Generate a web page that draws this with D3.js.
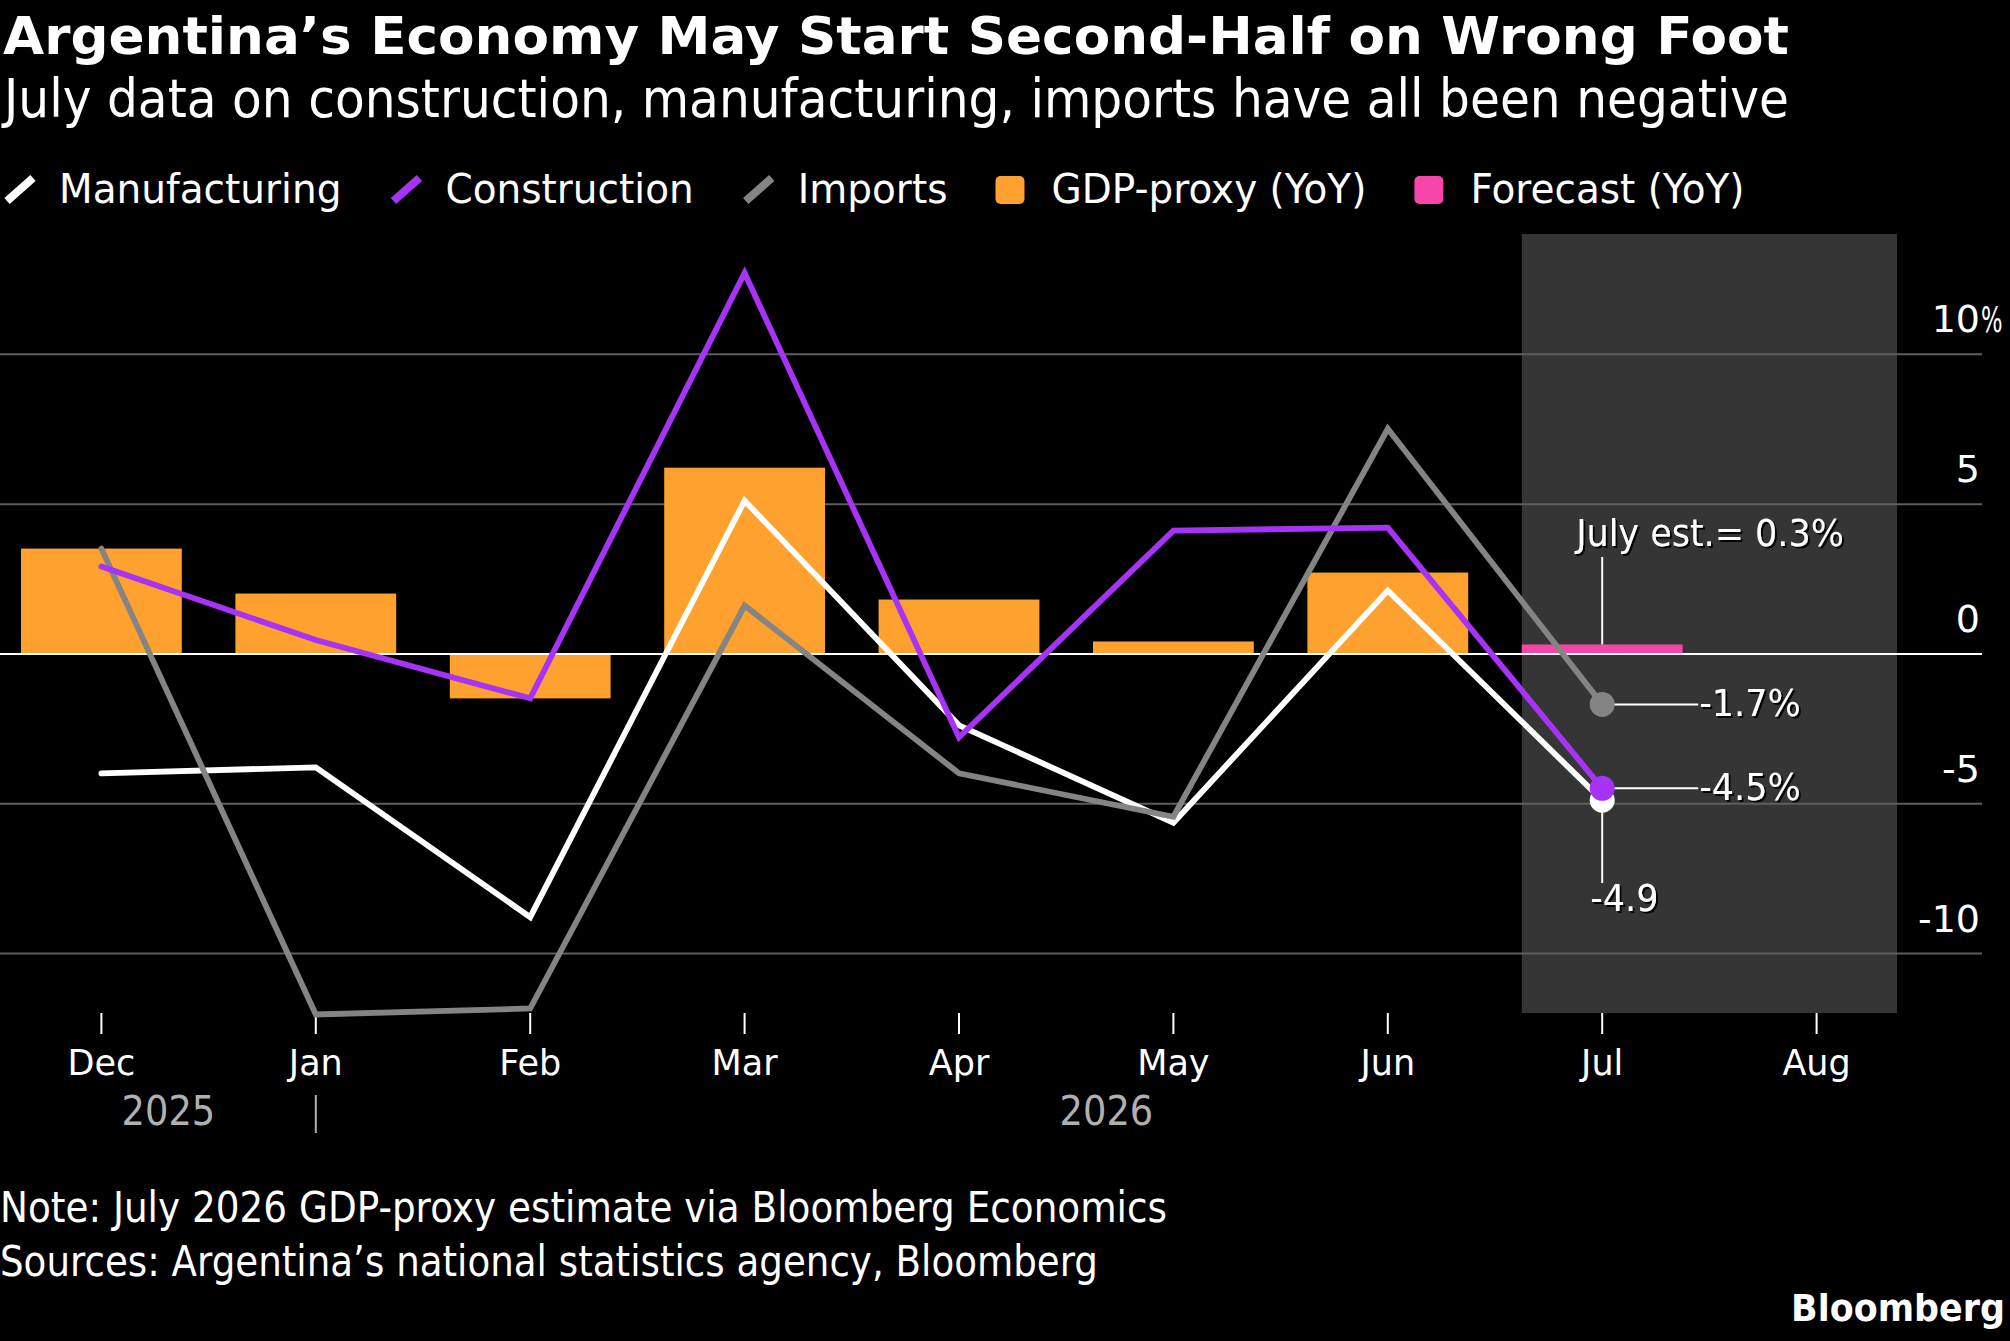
<!DOCTYPE html>
<html>
<head>
<meta charset="utf-8">
<script src="https://cdn.jsdelivr.net/npm/d3@7"></script>
<style>
  body { margin: 0; background: #000; }
  svg { display: block; }
  text { font-family: "DejaVu Sans", sans-serif; fill: #fff; }
</style>
</head>
<body>
<svg width="2010" height="1341"></svg>
<script>
// values (YoY %)
const months = ["Dec", "Jan", "Feb", "Mar", "Apr", "May", "Jun", "Jul", "Aug"];
const gdpProxy = [3.5, 2.0, -1.5, 6.2, 1.8, 0.4, 2.7, null, null];
const forecast = [null, null, null, null, null, null, null, 0.3, null];
const manufacturing = [-4.0, -3.8, -8.8, 5.1, -2.4, -5.65, 2.1, -4.9, null];
const construction = [2.9, 0.45, -1.5, 12.7, -2.8, 4.1, 4.2, -4.5, null];
const imports = [3.5, -12.05, -11.85, 1.6, -4.0, -5.45, 7.5, -1.7, null];
const yTicks = [-10, -5, 0, 5, 10];
const years = [{label: "2025", from: "Dec", to: "Jan"}, {label: "2026", from: "Jan", to: "Aug"}];
const forecastMonths = ["Jul", "Aug"];

const title = "Argentina\u2019s Economy May Start Second-Half on Wrong Foot";
const subtitle = "July data on construction, manufacturing, imports have all been negative";
const notes = ["Note: July 2026 GDP-proxy estimate via Bloomberg Economics",
               "Sources: Argentina\u2019s national statistics agency, Bloomberg"];

const colors = {
    manufacturing: "#ffffff",
    construction: "#a633f6",
    imports: "#848484",
    gdp: "#ffa12e",
    forecast: "#f545a8",
    shade: "#353535",
    grid: "#5e5e5e"
};

const svg = d3.select("svg");

svg.append("defs").append("filter")
    .attr("id", "shadow")
    .append("feDropShadow")
    .attr("dx", 2).attr("dy", 2).attr("stdDeviation", 0.5)
    .attr("flood-color", "#000").attr("flood-opacity", 0.9);

// squeeze a text horizontally (the Bloomberg face is narrower than DejaVu)
function squeeze(sel, k) {
    sel.each(function() {
        const w = this.getComputedTextLength();
        d3.select(this).attr("textLength", w * k).attr("lengthAdjust", "spacingAndGlyphs");
    });
}
function fitTo(sel, w) {
    sel.attr("textLength", w).attr("lengthAdjust", "spacingAndGlyphs");
}

// Scales
var x = d3.scaleBand()
    .domain(months)
    .range([21, 1897])
    .paddingInner(0.25)
    .paddingOuter(0);
var bw = x.bandwidth();
var cx = m => x(m) + bw / 2;

var y = d3.scaleLinear()
    .domain([-12, 14])
    .range([1013, 234]);

// Header
svg.append("text")
    .attr("x", 3).attr("y", 54)
    .style("font-size", "52px").style("font-weight", "bold")
    .text(title)
    .call(fitTo, 1786);

svg.append("text")
    .attr("x", 4).attr("y", 117)
    .style("font-size", "53px")
    .text(subtitle)
    .call(fitTo, 1785);

// Legend
const legendItems = [
    {label: "Manufacturing", type: "line", color: colors.manufacturing},
    {label: "Construction", type: "line", color: colors.construction},
    {label: "Imports", type: "line", color: colors.imports},
    {label: "GDP-proxy (YoY)", type: "box", color: colors.gdp},
    {label: "Forecast (YoY)", type: "box", color: colors.forecast}
];
var lx = 3;
var legend = svg.append("g").attr("class", "legend");
legendItems.forEach(item => {
    if (item.type === "line") {
        legend.append("line")
            .attr("x1", lx + 4).attr("y1", 201)
            .attr("x2", lx + 30).attr("y2", 178)
            .attr("stroke", item.color).attr("stroke-width", 8);
    } else {
        legend.append("rect")
            .attr("x", lx).attr("y", 176)
            .attr("width", 29).attr("height", 28).attr("rx", 5)
            .attr("fill", item.color);
    }
    var t = legend.append("text")
        .attr("x", lx + 56).attr("y", 203)
        .style("font-size", "40px")
        .text(item.label);
    var w = t.node().getComputedTextLength() * 0.975;
    fitTo(t, w);
    lx += 56 + w + 48;
});

// Forecast shading
svg.append("rect")
    .attr("x", x(forecastMonths[0]))
    .attr("y", y.range()[1])
    .attr("width", x(forecastMonths[forecastMonths.length - 1]) + bw - x(forecastMonths[0]))
    .attr("height", y.range()[0] - y.range()[1])
    .attr("fill", colors.shade);

// Gridlines + right-hand labels
function styleY(g) {
    g.select(".domain").remove();
    g.selectAll(".tick text")
        .attr("x", -2).attr("y", -22).attr("dy", null)
        .attr("text-anchor", "end")
        .attr("fill", "#fff")
        .style("font-family", "DejaVu Sans").style("font-size", "38px");
    // the unit hangs past the gridline end on the top label
    g.selectAll(".tick")
        .filter(d => d === d3.max(yTicks))
        .append("text")
        .attr("transform", "translate(-1,-22) scale(0.63,1)")
        .attr("text-anchor", "start")
        .attr("fill", "#fff")
        .style("font-family", "DejaVu Sans").style("font-size", "36px")
        .text("%");
}

var gy = svg.append("g")
    .attr("transform", "translate(1982,0)")
    .call(d3.axisLeft(y)
        .tickValues(yTicks.filter(d => d !== 0))
        .tickSize(1982)
        .tickFormat(d => String(d)))
    .call(styleY);
gy.selectAll(".tick line").attr("stroke", colors.grid).attr("stroke-width", 2);

// GDP-proxy bars
svg.append("g")
    .selectAll("rect")
    .data(months.map((m, i) => ({m: m, v: gdpProxy[i]})).filter(d => d.v != null))
    .enter().append("rect")
    .attr("x", d => x(d.m))
    .attr("y", d => y(Math.max(0, d.v)))
    .attr("width", bw)
    .attr("height", d => Math.abs(y(d.v) - y(0)))
    .attr("fill", colors.gdp);

// Forecast bar
svg.append("g")
    .selectAll("rect")
    .data(months.map((m, i) => ({m: m, v: forecast[i]})).filter(d => d.v != null))
    .enter().append("rect")
    .attr("x", d => x(d.m))
    .attr("y", d => y(Math.max(0, d.v)))
    .attr("width", bw)
    .attr("height", d => Math.abs(y(d.v) - y(0)))
    .attr("fill", colors.forecast);

// Zero line on top of bars
var gz = svg.append("g")
    .attr("transform", "translate(1982,0)")
    .call(d3.axisLeft(y).tickValues([0]).tickSize(1982).tickFormat(d => String(d)))
    .call(styleY);
gz.selectAll(".tick line").attr("stroke", "#fff").attr("stroke-width", 2);

// X axis
var xAxis = d3.axisBottom(x).tickSize(21).tickSizeOuter(0);
var gx = svg.append("g")
    .attr("transform", "translate(0," + y.range()[0] + ")")
    .call(xAxis);
gx.select(".domain").remove();
gx.selectAll(".tick line").attr("stroke", "#fff").attr("stroke-width", 2);
gx.selectAll(".tick text")
    .attr("y", 62).attr("dy", null)
    .attr("fill", "#fff")
    .style("font-family", "DejaVu Sans").style("font-size", "35px");

// Year labels
var gyear = svg.append("g");
years.forEach((yr, i) => {
    var x0 = i === 0 ? x(yr.from) : cx(yr.from);
    var x1 = yr.to === months[months.length - 1] ? x(yr.to) + bw : cx(yr.to);
    gyear.append("text")
        .attr("x", (x0 + x1) / 2).attr("y", 1125)
        .attr("text-anchor", "middle")
        .style("font-size", "40px").style("fill", "#b0b0b0")
        .text(yr.label)
        .call(squeeze, 0.92);
});
gyear.append("line")
    .attr("x1", cx(years[1].from)).attr("x2", cx(years[1].from))
    .attr("y1", 1095).attr("y2", 1133)
    .attr("stroke", "#b0b0b0").attr("stroke-width", 2);

// Lines
var line = d3.line()
    .defined(d => d.v != null)
    .x(d => cx(d.m))
    .y(d => y(d.v));

const series = [
    {key: "manufacturing", values: manufacturing},
    {key: "imports", values: imports},
    {key: "construction", values: construction}
];

svg.append("g")
    .selectAll("path")
    .data(series)
    .enter().append("path")
    .attr("d", s => line(months.map((m, i) => ({m: m, v: s.values[i]}))))
    .attr("fill", "none")
    .attr("stroke", s => colors[s.key])
    .attr("stroke-width", 5.8)
    .attr("stroke-linejoin", "miter")
    .attr("stroke-linecap", "round");

// July call-outs
const jul = "Jul";
const ji = months.indexOf(jul);
const jx = cx(jul);
var ann = svg.append("g");

function label(txt, xp, yp, anchor) {
    return ann.append("text")
        .attr("x", xp).attr("y", yp)
        .attr("text-anchor", anchor || "start")
        .attr("filter", "url(#shadow)")
        .style("font-size", "38px")
        .text(txt)
        .call(squeeze, 0.92);
}

// forecast estimate
ann.append("line")
    .attr("x1", jx).attr("x2", jx)
    .attr("y1", 557).attr("y2", y(forecast[ji]))
    .attr("stroke", "#fff").attr("stroke-width", 2);
label("July est.= " + forecast[ji].toFixed(1) + "%", jx - 26, 546);

// imports & construction: leader to the right
[imports[ji], construction[ji]].forEach(v => {
    ann.append("line")
        .attr("x1", jx).attr("x2", jx + 96)
        .attr("y1", y(v)).attr("y2", y(v))
        .attr("stroke", "#fff").attr("stroke-width", 2);
});
// manufacturing: leader downwards
ann.append("line")
    .attr("x1", jx).attr("x2", jx)
    .attr("y1", y(manufacturing[ji])).attr("y2", 883)
    .attr("stroke", "#fff").attr("stroke-width", 2);

// dots (manufacturing under construction)
[{v: manufacturing[ji], c: colors.manufacturing},
 {v: imports[ji], c: colors.imports},
 {v: construction[ji], c: colors.construction}].forEach(d => {
    ann.append("circle")
        .attr("cx", jx).attr("cy", y(d.v)).attr("r", 12.5)
        .attr("fill", d.c);
});

label(imports[ji].toFixed(1) + "%", jx + 97, y(imports[ji]) + 12);
label(construction[ji].toFixed(1) + "%", jx + 97, y(construction[ji]) + 12);
label(manufacturing[ji].toFixed(1), jx - 12, 911);

// Footer
notes.forEach((n, i) => {
    svg.append("text")
        .attr("x", 0).attr("y", 1222 + i * 54)
        .style("font-size", "42px")
        .text(n)
        .call(fitTo, i === 0 ? 1167 : 1098);
});

var logo = svg.append("text")
    .attr("text-anchor", "end")
    .style("font-size", "37px").style("font-weight", "bold")
    .text("Bloomberg");
var lw = logo.node().getComputedTextLength();
logo.attr("transform", "translate(2005,1321) scale(" + (214 / lw) + ",1)");
</script>
</body>
</html>
